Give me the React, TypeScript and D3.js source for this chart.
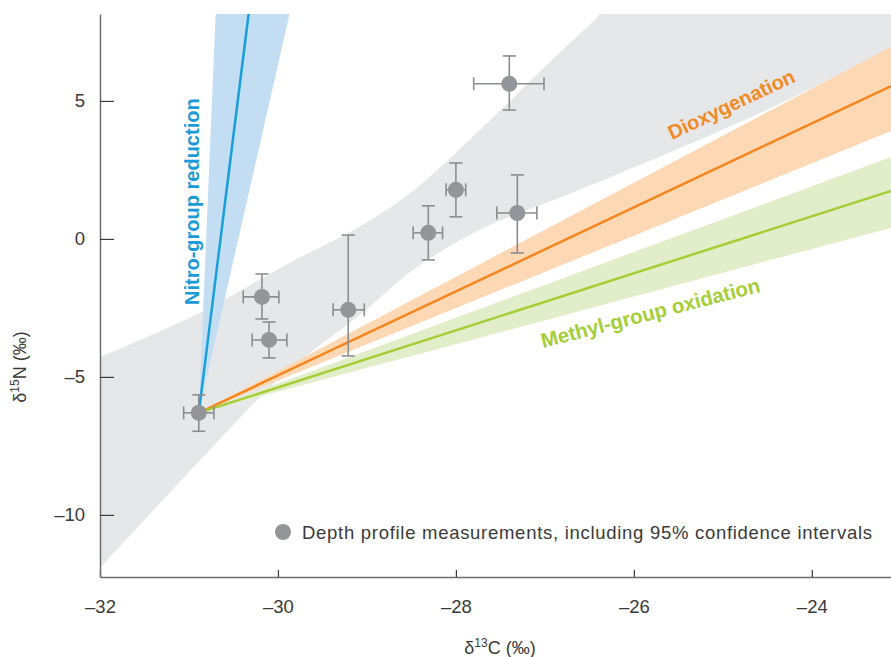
import { useEffect, useRef } from 'react'
import * as d3 from 'd3'

// depth profile measurements: d13C, d15N with 95% CI bounds
const pointX = [-30.89, -30.18, -30.1, -29.21, -28.31, -28.0, -27.31, -27.4]
const pointY = [-6.3, -2.1, -3.66, -2.57, 0.22, 1.78, 0.94, 5.62]
const xLow = [-31.06, -30.39, -30.29, -29.38, -28.48, -28.11, -27.54, -27.8]
const xHigh = [-30.72, -29.99, -29.9, -29.03, -28.15, -27.89, -27.09, -27.01]
const yLow = [-6.97, -2.9, -4.31, -4.24, -0.76, 0.8, -0.51, 4.67]
const yHigh = [-5.65, -1.27, -3.01, 0.14, 1.2, 2.75, 2.32, 6.63]

// grey envelope: upper edge left->right, corner beyond the frame, lower edge right->left
const greyUpper: [number, number][] = [
  [-32, -4.28], [-30.88, -2.68], [-29.87, -0.87], [-29.11, 0.4], [-28.52, 1.65],
  [-27.73, 3.95], [-26.98, 6.3], [-26.38, 8.15], [-26.2, 8.9],
]
const greyCorner: [number, number] = [-23.0, 8.9]
const greyLower: [number, number][] = [
  [-23.0, 7.1], [-24.51, 4.67], [-26.61, 1.78], [-27.73, 0.33], [-28.48, -1.12],
  [-29.05, -2.68], [-29.64, -4.13], [-30.12, -5.47], [-30.71, -7.45], [-32, -11.92],
]

// model lines from the starting composition
const origin: [number, number] = [-30.89, -6.3]
const nitroEnd: [number, number] = [-30.33, 8.15]
const nitroBand: [number, number][] = [[-30.7, 8.15], [-29.87, 8.15]]
const dioxEnd: [number, number] = [-23.11, 5.54]
const dioxBand: [number, number][] = [[-23.11, 6.96], [-23.11, 3.91]]
const methylEnd: [number, number] = [-23.11, 1.74]
const methylBand: [number, number][] = [[-23.11, 2.97], [-23.11, 0.4]]

const xTicks = [-32, -30, -28, -26, -24]
const yTicks = [-10, -5, 0, 5]

const W = 891
const H = 657
const left = 100
const right = 891
const top = 14
const bottom = 577
const font = '"Liberation Sans", Arial, sans-serif'
const ink = '#3a3a3a'

export default function App() {
  const xAxisRef = useRef<SVGGElement>(null)
  const yAxisRef = useRef<SVGGElement>(null)

  const x = d3.scaleLinear().domain([-32, -23.11]).range([left, right])
  const y = d3.scaleLinear().domain([-12.25, 8.15]).range([bottom, top])
  const dash = (v: number) => (v < 0 ? '\u2013' + Math.abs(v) : String(v))

  useEffect(() => {
    const gx = d3.select(xAxisRef.current!)
    gx.selectAll('*').remove()
    gx.call(
      d3.axisBottom(x).tickValues(xTicks).tickSizeInner(-7).tickSizeOuter(0).tickPadding(23)
        .tickFormat(d => dash(d as number))
    )
    const gy = d3.select(yAxisRef.current!)
    gy.selectAll('*').remove()
    gy.call(
      d3.axisLeft(y).tickValues(yTicks).tickSizeInner(-14).tickSizeOuter(0).tickPadding(15)
        .tickFormat(d => dash(d as number))
    )
    for (const g of [gx, gy]) {
      g.select('.domain').attr('stroke', '#6d6e71').attr('stroke-width', 1.5)
      g.selectAll('.tick line').attr('stroke', ink).attr('stroke-width', 1.2)
      g.selectAll('.tick text').attr('fill', ink).attr('font-size', 18.5).attr('font-family', font)
    }
  }, [])

  const edge = d3.line<[number, number]>().x(d => x(d[0])).y(d => y(d[1])).curve(d3.curveCatmullRom)
  const line = d3.line<[number, number]>().x(d => x(d[0])).y(d => y(d[1]))
  const greyPath =
    edge(greyUpper) +
    `L${x(greyCorner[0])},${y(greyCorner[1])}` +
    'L' + edge(greyLower)!.slice(1) + 'Z'
  const band = (b: [number, number][]) => line([origin, b[0], b[1]]) + 'Z'

  const ox = x(origin[0])
  const oy = y(origin[1])
  const ang = (end: [number, number]) =>
    (Math.atan2(y(end[1]) - oy, x(end[0]) - ox) * 180) / Math.PI

  const errColor = '#8c8d90'
  const cap = 6.5

  return (
    <div style={{ position: 'absolute', left: 0, top: 0 }}>
      <svg width={W} height={H} style={{ display: 'block', fontFamily: font }}>
        <defs>
          <clipPath id="plot">
            <rect x={left} y={top} width={right - left} height={bottom - top} />
          </clipPath>
        </defs>
        <g clipPath="url(#plot)">
          <path d={greyPath} fill="#e6e7e8" />
          <path d={band(dioxBand)} fill="#fdd8b5" />
          <path d={band(methylBand)} fill="#e2eec9" />
          <path d={band(nitroBand)} fill="#c3ddf2" />
          <path d={line([origin, dioxEnd])!} stroke="#f5861f" strokeWidth={2.5} fill="none" />
          <path d={line([origin, methylEnd])!} stroke="#a6ce39" strokeWidth={2.5} fill="none" />
          <path d={line([origin, nitroEnd])!} stroke="#1a9fd9" strokeWidth={2.5} fill="none" />
        </g>

        <g ref={xAxisRef} transform={`translate(0,${bottom})`} />
        <g ref={yAxisRef} transform={`translate(${left},0)`} />

        {/* error bars and points */}
        <g stroke={errColor} strokeWidth={1.6} fill="none">
          {pointX.map((px, i) => (
            <g key={i}>
              <line x1={x(px)} x2={x(px)} y1={y(yLow[i])} y2={y(yHigh[i])} />
              <line x1={x(px) - cap} x2={x(px) + cap} y1={y(yLow[i])} y2={y(yLow[i])} />
              <line x1={x(px) - cap} x2={x(px) + cap} y1={y(yHigh[i])} y2={y(yHigh[i])} />
              <line x1={x(xLow[i])} x2={x(xHigh[i])} y1={y(pointY[i])} y2={y(pointY[i])} />
              <line x1={x(xLow[i])} x2={x(xLow[i])} y1={y(pointY[i]) - cap} y2={y(pointY[i]) + cap} />
              <line x1={x(xHigh[i])} x2={x(xHigh[i])} y1={y(pointY[i]) - cap} y2={y(pointY[i]) + cap} />
            </g>
          ))}
        </g>
        <g fill="#939598">
          {pointX.map((px, i) => (
            <circle key={i} cx={x(px)} cy={y(pointY[i])} r={8} />
          ))}
        </g>

        {/* model labels */}
        <text transform="translate(199,305) rotate(-90)" fill="#1a9ad6" fontWeight="bold" fontSize={20}>
          Nitro-group reduction
        </text>
        <text transform={`translate(672,140) rotate(${ang(dioxEnd)})`} fill="#f28a25" fontWeight="bold" fontSize={20}>
          Dioxygenation
        </text>
        <text transform="translate(543,348) rotate(-14.5)" fill="#a6ce39" fontWeight="bold" fontSize={20.4}>
          Methyl-group oxidation
        </text>

        {/* legend */}
        <circle cx={283} cy={532} r={8} fill="#939598" />
        <text x={302} y={539} fontSize={18.5} fill={ink} textLength={570} lengthAdjust="spacing">
          Depth profile measurements, including 95% confidence intervals
        </text>

        {/* axis titles */}
        <text x={500} y={654} textAnchor="middle" fontSize={18} fill={ink}>
          δ<tspan fontSize={12} dy={-7}>13</tspan><tspan dy={7}>C (‰)</tspan>
        </text>
        <text transform="translate(26,367) rotate(-90)" textAnchor="middle" fontSize={18} fill={ink}>
          δ<tspan fontSize={12} dy={-7}>15</tspan><tspan dy={7}>N (‰)</tspan>
        </text>
      </svg>
    </div>
  )
}
